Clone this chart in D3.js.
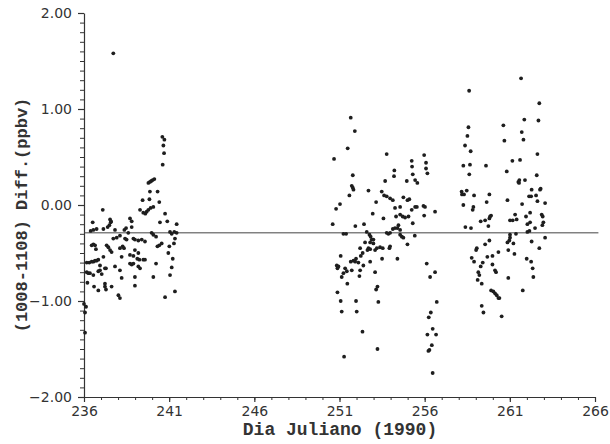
<!DOCTYPE html>
<html lang="en">
<head>
<meta charset="UTF-8">
<title>Diff 1008-1108</title>
<style>
  body { margin: 0; background: #fff; }
  .tick text { font-family: "DejaVu Sans", sans-serif; font-size: 14px; fill: #333; }
  .axis-title { font-family: "Liberation Mono", "DejaVu Sans Mono", monospace; font-weight: bold; fill: #333; }
</style>
</head>
<body>
<div id="chart"></div>
<script src="https://d3js.org/d3.v7.min.js"></script>
<script>
// first campaign block (days 236-241)
var seg1Day = [240.60,240.72,240.66,240.70,240.62,237.72,
  239.78,239.87,239.95,240.03,240.13,239.44,239.87,240.32,239.84,
  239.29,239.48,239.60,239.68,239.78,239.91,240.07,240.42,237.10,
  240.76,240.89,240.46,241.44,236.51,236.74,237.14,237.39,237.49,237.57,237.53,237.59,
  237.82,238.70,238.80,238.80,238.37,238.60,238.47,236.39,236.55,
  237.72,237.92,238.11,238.41,238.50,238.90,238.99,239.19,239.39,239.58,239.97,240.07,240.23,240.31,240.42,240.56,
  241.05,241.15,241.30,241.44,241.34,241.28,241.01,240.95,
  236.45,236.55,236.65,236.70,237.33,237.43,237.53,237.62,
  238.11,238.27,238.35,238.21,238.70,238.90,238.99,239.19,239.13,239.25,239.48,239.58,
  236.16,236.31,236.45,236.55,236.65,236.74,236.84,236.94,237.14,237.23,237.82,
  238.70,238.80,238.90,239.19,239.29,240.23,
  236.16,236.25,236.35,236.55,236.84,236.94,237.04,237.29,238.11,238.21,
  236.20,236.59,236.84,237.23,237.23,237.29,237.62,238.99,238.99,240.07,
  241.05,241.15,241.21,238.02,238.11,240.76,241.34,236.00,236.12,236.06,236.06];
var seg1Diff = [0.71,0.68,0.62,0.54,0.42,1.58,
  0.23,0.24,0.25,0.26,0.27,0.05,0.14,0.14,0.06,
  -0.05,-0.08,-0.09,-0.07,-0.05,-0.03,-0.02,0.03,-0.05,
  -0.09,-0.17,-0.18,-0.20,-0.18,-0.25,-0.25,-0.23,-0.21,-0.18,-0.15,-0.17,
  -0.26,-0.14,-0.17,-0.23,-0.26,-0.29,-0.24,-0.27,-0.26,
  -0.35,-0.34,-0.32,-0.35,-0.36,-0.35,-0.36,-0.37,-0.36,-0.38,-0.29,-0.31,-0.33,-0.43,-0.42,-0.40,
  -0.28,-0.30,-0.28,-0.29,-0.35,-0.40,-0.43,-0.50,
  -0.42,-0.41,-0.42,-0.46,-0.42,-0.44,-0.47,-0.49,
  -0.45,-0.43,-0.45,-0.54,-0.52,-0.53,-0.47,-0.50,-0.56,-0.57,-0.57,-0.57,
  -0.60,-0.60,-0.59,-0.59,-0.58,-0.58,-0.57,-0.63,-0.54,-0.66,-0.64,
  -0.61,-0.62,-0.61,-0.64,-0.66,-0.61,
  -0.70,-0.71,-0.71,-0.73,-0.69,-0.68,-0.72,-0.66,-0.68,-0.76,
  -0.81,-0.85,-0.89,-0.82,-0.85,-0.88,-0.85,-0.75,-0.84,-0.75,
  -0.73,-0.65,-0.56,-0.94,-0.97,-0.96,-0.90,-1.03,-1.06,-1.12,-1.33];

// second block (days 250.5-256.7)
var seg2Day = [251.66,251.90,251.48,250.68,253.77,251.78,251.72,251.78,251.82,251.58,251.03,250.80,
  250.60,251.93,252.44,251.23,251.39,252.70,253.15,252.95,
  253.48,253.62,253.77,253.97,254.13,253.68,254.20,254.22,254.95,
  255.24,255.26,255.30,255.44,255.57,255.97,256.08,256.08,256.16,
  254.75,254.99,255.10,254.26,254.56,254.32,254.56,254.71,254.85,255.05,
  255.24,255.44,255.54,255.93,256.02,255.30,256.61,255.97,
  253.58,254.40,254.46,254.56,253.77,253.87,253.97,254.13,254.26,
  254.56,254.66,254.75,254.99,255.42,
  252.60,252.76,252.83,252.89,252.99,252.80,252.99,
  252.50,252.70,252.64,252.80,253.09,253.19,253.38,253.54,253.97,253.93,
  252.21,252.36,252.25,251.97,252.11,251.82,251.92,252.40,252.80,251.07,
  250.84,250.94,250.88,251.33,251.43,251.23,251.13,251.46,251.66,251.72,252.21,252.17,253.09,
  253.50,254.40,256.12,256.32,256.61,
  250.88,251.07,251.13,251.97,252.01,253.15,253.23,253.28,252.35,253.23,251.27,
  256.71,256.36,256.24,256.16,256.47,256.67,256.42,256.28,256.22,256.47];
var seg2Diff = [0.91,0.77,0.59,0.48,0.53,0.31,0.20,0.18,0.16,0.10,0.01,-0.04,
  -0.20,-0.22,-0.20,-0.30,-0.30,0.15,0.03,-0.09,
  0.14,0.10,0.09,0.07,0.05,0.25,0.30,0.36,0.25,
  0.46,0.40,0.32,0.26,0.23,0.52,0.44,0.38,0.33,
  0.08,0.05,0.06,-0.03,-0.02,-0.12,-0.10,-0.12,-0.13,-0.12,
  -0.05,-0.02,-0.02,-0.01,-0.02,-0.19,-0.07,-0.11,
  -0.14,-0.24,-0.21,-0.26,-0.29,-0.30,-0.29,-0.25,-0.24,
  -0.31,-0.33,-0.34,-0.41,-0.32,
  -0.28,-0.31,-0.33,-0.36,-0.36,-0.39,-0.40,
  -0.39,-0.45,-0.47,-0.46,-0.47,-0.45,-0.44,-0.45,-0.43,-0.45,
  -0.45,-0.50,-0.53,-0.56,-0.60,-0.58,-0.59,-0.63,-0.59,-0.53,
  -0.63,-0.64,-0.66,-0.66,-0.69,-0.71,-0.75,-0.82,-0.59,-0.68,-0.68,-0.74,-0.70,
  -0.56,-0.56,-0.61,-0.75,-0.70,
  -0.91,-1.00,-1.11,-1.00,-1.11,-0.88,-0.85,-1.01,-1.32,-1.50,-1.58,
  -1.01,-1.12,-1.17,-1.35,-1.29,-1.35,-1.46,-1.51,-1.52,-1.75];

// third block (days 258-263)
var seg3Day = [258.61,261.66,262.73,261.85,262.68,260.62,261.70,258.57,258.51,260.68,261.80,258.37,258.70,262.62,
  258.27,258.66,259.60,261.15,261.60,260.82,258.62,261.50,261.56,261.54,261.89,262.58,
  258.17,258.47,258.19,258.31,258.90,259.80,262.28,262.25,262.13,262.54,262.62,262.81,262.77,263.07,
  258.27,258.86,258.82,259.64,260.86,261.72,262.19,261.95,261.31,261.17,261.01,261.40,
  259.84,259.90,259.80,259.29,259.55,259.74,262.87,262.93,262.97,262.91,262.03,262.19,262.48,
  258.39,258.72,262.03,262.15,261.01,261.01,260.97,261.21,260.86,261.36,263.07,262.28,262.73,
  259.80,259.55,259.06,259.02,260.91,260.33,259.98,259.68,258.76,258.90,259.41,259.29,
  259.98,260.13,260.19,261.27,261.99,262.25,262.34,262.38,
  259.15,259.21,259.11,259.35,260.91,259.90,260.03,260.13,260.23,260.33,260.39,261.76,
  259.35,259.45,260.52];
var seg3Diff = [1.19,1.32,1.06,0.89,0.88,0.83,0.76,0.81,0.72,0.67,0.68,0.62,0.56,0.53,
  0.41,0.42,0.41,0.46,0.47,0.35,0.32,0.24,0.26,0.23,0.26,0.31,
  0.14,0.15,0.11,0.11,0.10,0.11,0.16,0.09,0.09,0.10,0.04,0.17,0.16,0.02,
  0.00,-0.02,-0.05,0.03,0.05,0.01,-0.08,-0.12,-0.10,-0.16,-0.16,-0.15,
  -0.12,-0.11,-0.14,-0.17,-0.16,-0.22,-0.10,-0.12,-0.18,-0.21,-0.20,-0.18,-0.24,
  -0.23,-0.24,-0.28,-0.27,-0.31,-0.34,-0.37,-0.40,-0.39,-0.30,-0.34,-0.38,-0.45,
  -0.37,-0.41,-0.45,-0.47,-0.47,-0.49,-0.53,-0.54,-0.55,-0.59,-0.60,-0.64,
  -0.62,-0.68,-0.70,-0.51,-0.56,-0.59,-0.66,-0.75,
  -0.70,-0.73,-0.78,-0.82,-0.76,-0.89,-0.90,-0.92,-0.94,-0.97,-0.97,-0.89,
  -1.05,-1.12,-1.16];

var meanDiff = -0.29;
var xTicks = [236, 241, 246, 251, 256, 261, 266];
var yTicks = [-2, -1, 0, 1, 2];

var width = 610, height = 444;
var x = d3.scaleLinear().domain([236, 266]).range([84, 595]);
var y = d3.scaleLinear().domain([-2, 2]).range([397, 13]);

var svg = d3.select("#chart").append("svg")
  .attr("width", width).attr("height", height);

var pts = [];
[[seg1Day, seg1Diff], [seg2Day, seg2Diff], [seg3Day, seg3Diff]].forEach(function(s) {
  s[0].forEach(function(d, i) { pts.push({day: d, diff: s[1][i]}); });
});

// minor ticks first, then the labelled axis on top
svg.append("g")
  .attr("transform", "translate(0," + y(-2) + ")")
  .call(d3.axisBottom(x).tickValues(d3.range(236, 267, 1)).tickSize(3).tickFormat("").tickSizeOuter(0))
  .call(g => g.select(".domain").remove())
  .selectAll("line").attr("stroke", "#333");

svg.append("g")
  .attr("transform", "translate(" + x(236) + ",0)")
  .call(d3.axisLeft(y).tickValues(d3.range(-20, 21, 1).map(v => v / 10)).tickSize(4).tickFormat("").tickSizeOuter(0))
  .call(g => g.select(".domain").remove())
  .selectAll("line").attr("stroke", "#333");

var xAxis = svg.append("g")
  .attr("transform", "translate(0," + y(-2) + ")")
  .call(d3.axisBottom(x).tickValues(xTicks).tickSize(5).tickPadding(4).tickFormat(d3.format("d")).tickSizeOuter(0));
xAxis.selectAll("line, path").attr("stroke", "#333").attr("stroke-width", 1.2);

var yAxis = svg.append("g")
  .attr("transform", "translate(" + x(236) + ",0)")
  .call(d3.axisLeft(y).tickValues(yTicks).tickSize(6).tickPadding(6).tickFormat(d3.format(".2f")).tickSizeOuter(0));
yAxis.selectAll("line, path").attr("stroke", "#333").attr("stroke-width", 1.2);

// mean line
svg.append("line")
  .attr("x1", x(236)).attr("x2", x(266.2))
  .attr("y1", y(meanDiff)).attr("y2", y(meanDiff))
  .attr("stroke", "#444").attr("stroke-width", 1);

svg.append("g").selectAll("circle")
  .data(pts)
  .enter().append("circle")
  .attr("cx", d => x(d.day))
  .attr("cy", d => y(d.diff))
  .attr("r", 1.9)
  .attr("fill", "#1e1e1e");

svg.append("text")
  .attr("class", "axis-title")
  .attr("x", 340).attr("y", 435)
  .attr("text-anchor", "middle")
  .attr("font-size", 18)
  .text("Dia Juliano (1990)");

svg.append("text")
  .attr("class", "axis-title")
  .attr("transform", "translate(27,215) rotate(-90)")
  .attr("text-anchor", "middle")
  .attr("font-size", 17)
  .text("(1008-1108) Diff.(ppbv)");
</script>
</body>
</html>
